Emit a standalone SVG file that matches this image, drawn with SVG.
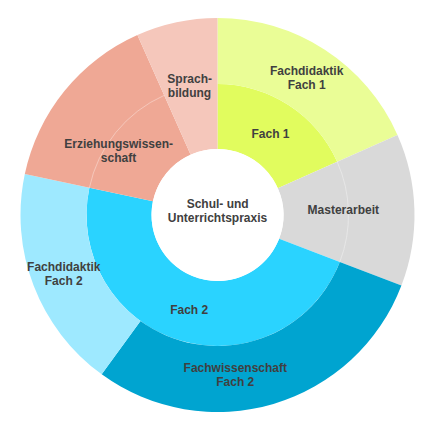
<svg xmlns="http://www.w3.org/2000/svg" width="432" height="429" viewBox="0 0 432 429">
<style>
.lbl{font-family:"Liberation Sans",Arial,sans-serif;font-weight:bold;font-size:12px;fill:#404040;text-anchor:middle}
.seam{fill:none;stroke:#ffffff;stroke-opacity:0.35;stroke-width:1}
</style>
<rect width="432" height="429" fill="#ffffff"/>
<g id="node-fach1">
<path d="M217.5,84 A131,131 0 0 1 337.17,161.72 L277.79,188.16 A66,66 0 0 0 217.5,149 Z" fill="#E1FC5E"/>
<text class="lbl" x="270.5" y="137.5">Fach 1</text>
</g>
<g id="node-fachdidaktik1">
<path d="M217.5,18 A197,197 0 0 1 397.46,134.88 L337.17,161.72 A131,131 0 0 0 217.5,84 Z" fill="#EAFD96"/>
<text class="lbl" x="306.7" y="74.7">Fachdidaktik</text>
<text class="lbl" x="306.7" y="89.2">Fach 1</text>
</g>
<g id="node-masterarbeit">
<path d="M397.46,134.88 A197,197 0 0 1 401.42,285.6 L279.12,238.65 A66,66 0 0 0 277.79,188.16 Z" fill="#D9D9D9"/>
<path class="seam" d="M337.17,161.72 A131,131 0 0 1 339.8,261.95"/>
<text class="lbl" x="343.3" y="214">Masterarbeit</text>
</g>
<g id="node-fach2">
<path d="M339.8,261.95 A131,131 0 0 1 89.37,187.77 L152.95,201.28 A66,66 0 0 0 279.12,238.65 Z" fill="#2AD3FF"/>
<text class="lbl" x="189.2" y="314">Fach 2</text>
</g>
<g id="node-fachwissenschaft2">
<path d="M401.42,285.6 A197,197 0 0 1 101.7,374.37 L140.5,320.98 A131,131 0 0 0 339.8,261.95 Z" fill="#00A4D0"/>
<text class="lbl" x="235.3" y="372">Fachwissenschaft</text>
<text class="lbl" x="235.3" y="386">Fach 2</text>
</g>
<g id="node-fachdidaktik2">
<path d="M101.7,374.37 A197,197 0 0 1 24.81,174.04 L89.37,187.77 A131,131 0 0 0 140.5,320.98 Z" fill="#9EE9FF"/>
<text class="lbl" x="63.8" y="270.7">Fachdidaktik</text>
<text class="lbl" x="63.8" y="284.5">Fach 2</text>
</g>
<g id="node-erziehungswissenschaft">
<path d="M24.81,174.04 A197,197 0 0 1 137.38,35.04 L190.66,154.71 A66,66 0 0 0 152.95,201.28 Z" fill="#EFA895"/>
<path class="seam" d="M89.37,187.77 A131,131 0 0 1 164.22,95.33"/>
<text class="lbl" x="118.7" y="147.7">Erziehungswissen-</text>
<text class="lbl" x="118.5" y="161.7">schaft</text>
</g>
<g id="node-sprachbildung">
<path d="M137.38,35.04 A197,197 0 0 1 217.5,18 L217.5,149 A66,66 0 0 0 190.66,154.71 Z" fill="#F5C7BB"/>
<text class="lbl" x="189.7" y="83.3">Sprach-</text>
<text class="lbl" x="189.5" y="97">bildung</text>
</g>
<g id="node-center">
<circle cx="217.5" cy="215" r="66" fill="#ffffff"/>
<text class="lbl" x="217.7" y="207.5">Schul- und</text>
<text class="lbl" x="217.5" y="221.8">Unterrichtspraxis</text>
</g>
<g id="connectors"></g>
</svg>
